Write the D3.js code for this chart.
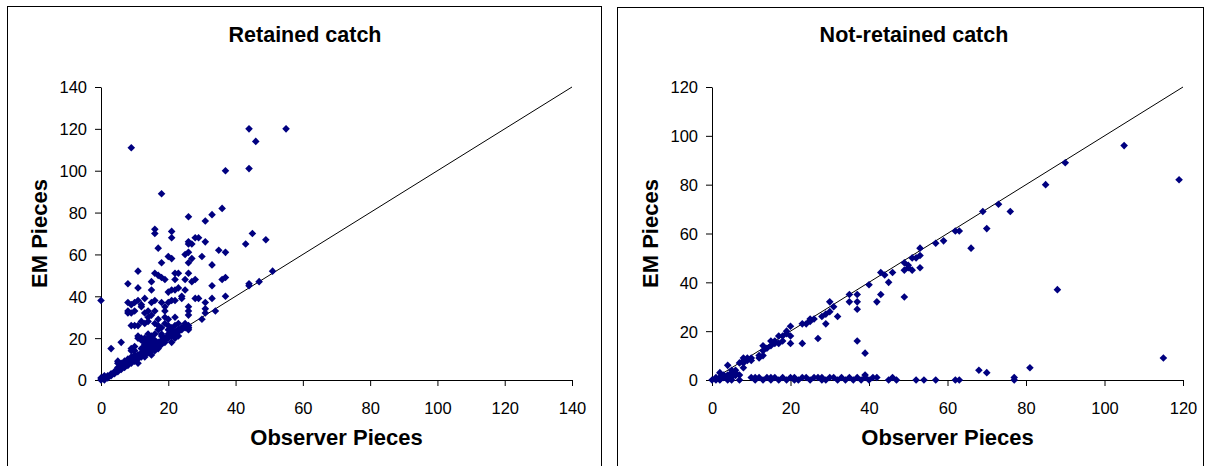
<!DOCTYPE html>
<html>
<head>
<meta charset="utf-8">
<script src="https://cdn.jsdelivr.net/npm/d3@7"></script>
<style>
  html, body { margin: 0; padding: 0; background: #fff; }
  svg { display: block; font-family: "Liberation Sans", Arial, sans-serif; }
</style>
</head>
<body>
<svg id="chart" width="1205" height="466"></svg>
<script>
// ---------- DATA ----------
const panelTitles = ["Retained catch", "Not-retained catch"];
const xAxisTitle = "Observer Pieces";
const yAxisTitle = "EM Pieces";
const retainedTicks = [0, 20, 40, 60, 80, 100, 120, 140];
const notRetainedTicks = [0, 20, 40, 60, 80, 100, 120];

// Retained catch: [observer, EM]
const retainedObserver = [
  0,0,1,1,1,2,2,3,3,4,4,5,5,5,5,5,6,6,6,6,7,7,7,7,8,8,8,8,9,9,9,9,10,10,10,10,10,11,11,11,11,
  12,12,12,12,13,13,13,13,13,14,14,14,14,14,15,15,15,15,15,16,16,16,16,16,17,17,17,17,18,18,18,18,
  19,19,19,20,20,20,21,21,21,21,22,22,22,23,23,23,24,24,25,25,26,26,26,
  3,6,8,8,8,8,9,9,9,10,10,10,11,11,11,11,11,11,12,12,12,13,13,13,13,14,14,14,14,15,15,15,15,15,
  16,16,16,16,16,16,17,17,17,17,18,18,18,18,18,19,19,19,19,20,20,20,20,21,21,21,21,21,22,22,22,22,22,
  23,23,24,24,24,25,25,25,26,26,26,26,26,26,26,26,26,26,27,27,27,28,28,28,29,29,30,30,31,31,31,31,31,
  33,33,33,33,34,35,36,36,37,37,37,37,43,44,44,44,44,45,46,47,49,51,55,9,0,
  9,9,10,12,12,13,13,14,15,16,17,18,19,20,20,21,22,23,25,23
];
const retainedEM = [
  0,1,0,1,2,2,1,3,2,3,4,5,4,6,8,9,6,5,7,8,7,6,8,9,8,7,9,10,9,8,10,11,10,9,11,12,14,11,10,12,8,
  12,11,13,15,13,12,14,16,11,14,13,15,17,19,15,14,16,18,12,16,15,17,19,14,17,16,18,15,18,17,19,21,
  19,20,18,20,21,22,21,22,18,24,22,23,20,23,24,21,24,25,25,26,26,25,24,
  15,18,46,37,32,33,32,36,26,33,26,37,38,52,44,26,20,21,35,28,36,39,32,27,20,33,30,28,22,31,47,43,37,20,
  72,70,51,38,27,33,63,50,29,26,89,56,49,37,25,48,33,35,30,59,42,37,29,71,68,58,38,43,51,43,38,48,30,
  51,44,40,39,25,60,48,43,78,66,65,61,56,51,35,33,31,25,58,65,47,68,48,39,68,39,59,29,76,66,37,34,32,
  79,55,45,39,33,62,82,48,100,61,49,40,65,120,101,46,45,70,114,47,67,52,120,111,38,
  14,15,16,19,20,17,18,20,21,22,24,22,27,26,24,25,26,27,27,24
];

// Not-retained catch: [observer, EM]
const notRetainedObserver = [
  0,1,1,2,2,3,3,4,4,4,5,5,5,6,6,6,7,7,7,8,8,8,8,9,9,10,10,12,12,13,13,13,14,15,15,16,16,17,17,18,18,
  19,19,20,20,20,23,23,24,25,25,26,27,28,29,29,30,30,31,32,35,35,37,37,37,37,39,40,42,43,43,44,45,46,
  49,49,49,50,50,51,51,52,53,53,53,57,59,62,63,66,69,70,73,76,85,88,90,105,119,115,81,68,70,77,77,
  10,11,11,12,13,14,15,15,16,17,18,19,20,21,21,22,23,24,25,26,27,28,28,29,30,31,32,33,34,35,36,37,
  38,39,39,40,41,42,45,46,47,52,54,57,62,63,2,3,5,6
];
const notRetainedEM = [
  0,1,0,3,1,1,2,6,2,0,1,4,3,3,4,2,2,0,7,8,9,7,5,8,9,8,9,9,10,10,12,14,13,14,16,16,15,15,18,16,18,
  19,20,22,18,15,15,23,23,24,25,25,17,26,27,23,32,28,30,26,35,32,35,32,29,16,11,39,32,35,44,43,40,44,
  48,45,34,46,47,45,50,50,51,54,46,56,57,61,61,54,69,62,72,69,80,37,89,96,82,9,5,4,3,1,0,
  1,0,1,1,0,1,1,0,1,0,1,0,1,1,0,0,1,1,0,1,1,0,1,0,1,1,0,1,0,1,0,1,
  0,1,2,0,1,1,0,1,0,0,0,0,0,0,0,1,0,2
];

// ---------- DRAW ----------
const svg = d3.select("#chart");
const navy = "#000080";
const fontFamily = '"Liberation Sans", Arial, sans-serif';

function panel(cfg) {
  const g = svg.append("g");
  // frame
  g.append("rect")
    .attr("x", cfg.frame[0] + 0.5).attr("y", cfg.frame[1] + 0.5)
    .attr("width", cfg.frame[2]).attr("height", cfg.frame[3])
    .attr("fill", "none").attr("stroke", "#000").attr("stroke-width", 1);

  const x = d3.scaleLinear().domain([0, cfg.max]).range([cfg.left, cfg.left + 471]);
  const y = d3.scaleLinear().domain([0, cfg.max]).range([380, 87]);

  // x axis
  const xa = g.append("g").attr("transform", "translate(0,380)")
    .call(d3.axisBottom(x).tickValues(cfg.ticks).tickSize(6).tickSizeOuter(0).tickFormat(d3.format("d")));
  xa.select(".domain").attr("stroke", "#000");
  xa.selectAll(".tick line").attr("stroke", "#000");
  xa.selectAll("text").attr("font-size", 16.5).attr("font-family", fontFamily)
    .attr("fill", "#000").attr("y", 33.5).attr("dy", 0);

  // y axis
  const ya = g.append("g").attr("transform", `translate(${cfg.left},0)`)
    .call(d3.axisLeft(y).tickValues(cfg.ticks).tickSize(6).tickSizeOuter(0).tickFormat(d3.format("d")));
  ya.select(".domain").attr("stroke", "#000");
  ya.selectAll(".tick line").attr("stroke", "#000");
  ya.selectAll("text").attr("font-size", 16.5).attr("font-family", fontFamily)
    .attr("fill", "#000").attr("x", -14).attr("dy", "0.36em");

  // 1:1 line
  g.append("line")
    .attr("x1", x(0)).attr("y1", y(0)).attr("x2", x(cfg.max)).attr("y2", y(cfg.max))
    .attr("stroke", "#000").attr("stroke-width", 1);

  // points
  const pts = cfg.xs.map((v, i) => [v, cfg.ys[i]]);
  const r = 3.8;
  g.append("g").selectAll("path").data(pts).enter().append("path")
    .attr("d", `M0,${-r}L${r},0L0,${r}L${-r},0Z`)
    .attr("transform", d => `translate(${x(d[0])},${y(d[1])})`)
    .attr("fill", navy);

  // titles
  g.append("text").attr("x", cfg.titleX).attr("y", 42).attr("text-anchor", "middle")
    .attr("font-size", 21.5).attr("font-weight", "bold").attr("font-family", fontFamily)
    .text(cfg.title);
  g.append("text").attr("x", cfg.left + 235.5).attr("y", 445).attr("text-anchor", "middle")
    .attr("font-size", 22).attr("font-weight", "bold").attr("font-family", fontFamily)
    .text(xAxisTitle);
  g.append("text").attr("transform", `translate(${cfg.left - 54},233.5) rotate(-90)`)
    .attr("text-anchor", "middle")
    .attr("font-size", 22).attr("font-weight", "bold").attr("font-family", fontFamily)
    .text(yAxisTitle);
}

panel({
  frame: [7, 6, 594, 470], left: 101, max: 140, ticks: retainedTicks,
  xs: retainedObserver, ys: retainedEM, title: panelTitles[0], titleX: 305
});
panel({
  frame: [617, 7, 586, 470], left: 712, max: 120, ticks: notRetainedTicks,
  xs: notRetainedObserver, ys: notRetainedEM, title: panelTitles[1], titleX: 914
});
</script>
</body>
</html>
